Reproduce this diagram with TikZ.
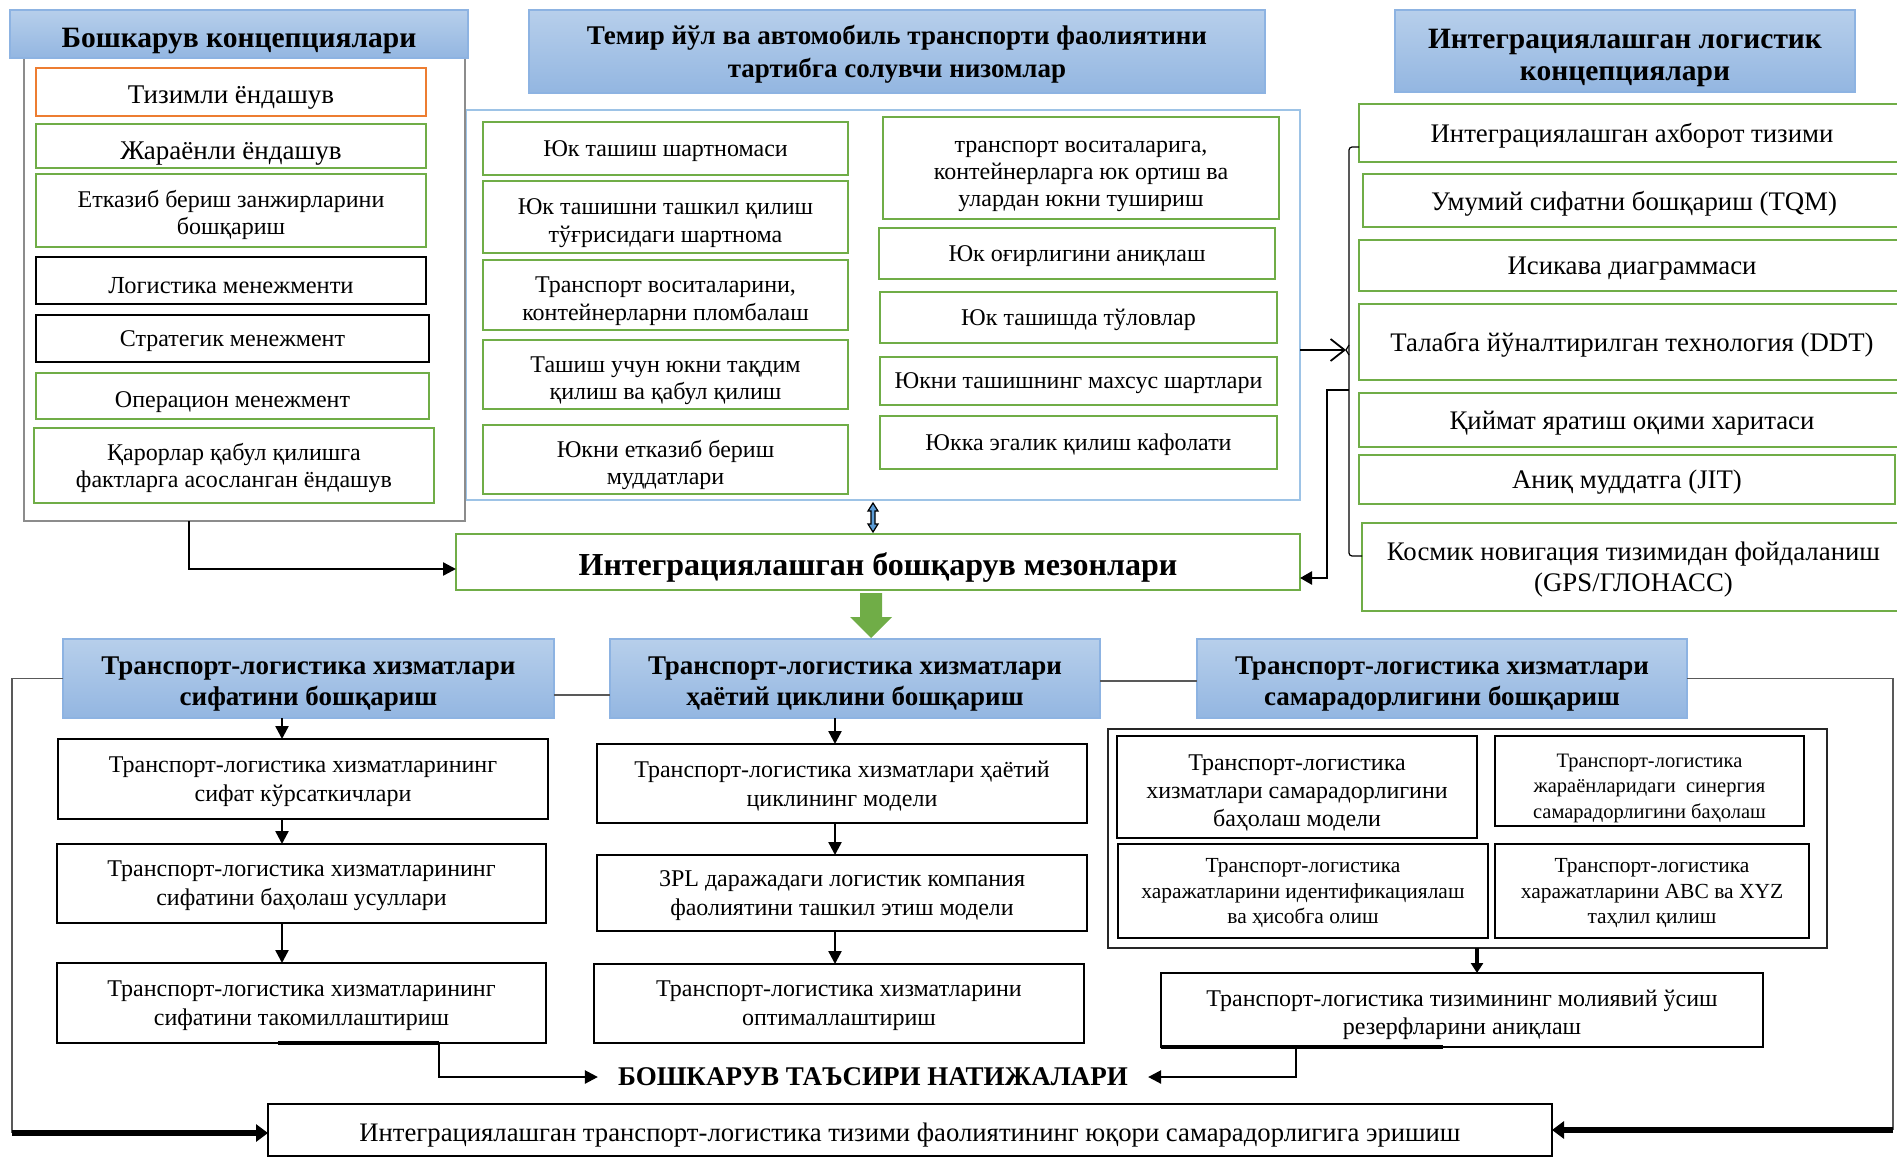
\documentclass[tikz,border=0pt]{standalone}
\usepackage{fontspec}
\setmainfont{Liberation Serif}
\usetikzlibrary{arrows.meta,shadings}
\definecolor{gr}{HTML}{70AD47}
\definecolor{orng}{HTML}{ED7D31}
\definecolor{lblue}{HTML}{9DC3E6}
\definecolor{hdrtop}{HTML}{B7CFEB}
\definecolor{hdrbot}{HTML}{93B6E1}
\definecolor{hdrline}{HTML}{8DB3E2}
\definecolor{midblue}{HTML}{5B9BD5}
\definecolor{lgray}{HTML}{8C8C8C}
\definecolor{dgray}{HTML}{595959}
\newcommand\tstr[1]{\rule{0pt}{#1pt}}
\begin{document}
\begin{tikzpicture}[x=1pt,y=-1pt,
  base/.style={rectangle,inner sep=0pt,outer sep=0pt,align=center,fill=white,text depth=0pt},
  sz/.style 2 args={minimum width=#1pt,minimum height=#2pt},
  f/.style 2 args={font=\fontsize{#1}{#2}\selectfont},
  bf/.style 2 args={font=\fontsize{#1}{#2}\selectfont\bfseries},
  gbox/.style={base,draw=gr,line width=2.2pt},
  obox/.style={base,draw=orng,line width=2.2pt},
  kbox/.style={base,draw=black,line width=2.2pt},
  hdr/.style={base,draw=hdrline,line width=1.2pt,top color=hdrtop,bottom color=hdrbot},
  arr/.style={line width=2.4pt,-{Triangle[length=13pt,width=13pt]}},
  thinline/.style={dgray,line width=1.5pt},
  bigarr/.style={line width=6pt,-{Triangle[length=12pt,width=17pt]}}
]
\useasboundingbox (0,0) rectangle (1897,1157);

% ---------- frames ----------
\node[base,fill=none,draw=lblue,line width=1.5pt,sz={834}{390}] (frameB) at (883,305) {};
\node[base,fill=none,draw=lgray,line width=2.5pt,sz={441}{463}] (frameA) at (244.5,289.5) {};

% ---------- left group ----------
\node[hdr,sz={458}{48},bf={29.5}{32}] (hA) at (239,34) {\tstr{27}Бошкарув концепциялари};
\node[obox,sz={390}{48},f={27}{30}] (A1) at (231,92) {\tstr{22.5}Тизимли ёндашув};
\node[gbox,sz={390}{44},f={27}{30}] (A2) at (231,146) {\tstr{27.5}Жараёнли ёндашув};
\node[gbox,sz={390}{73},f={24}{27}] (A3) at (231,210.5) {\tstr{20.5}Етказиб бериш занжирларини\\бошқариш};
\node[kbox,sz={390}{47},f={24.5}{28}] (A4) at (231,280.5) {\tstr{25.5}Логистика менежменти};
\node[kbox,sz={393}{47},f={24}{28}] (A5) at (232.5,338.5) {Стратегик менежмент};
\node[gbox,sz={393}{46},f={24}{28}] (A6) at (232.5,396) {\tstr{23}Операцион менежмент};
\node[gbox,sz={400}{75},f={24}{27}] (A7) at (234,465.5) {Қарорлар қабул қилишга\\фактларга асосланган ёндашув};

% ---------- middle group ----------
\node[hdr,sz={736}{83},bf={27}{33}] (hB) at (897,51.5) {Темир йўл ва автомобиль транспорти фаолиятини\\тартибга солувчи низомлар};
\node[gbox,sz={365}{53},f={24}{27.5}] (B1) at (665.5,148.5) {Юк ташиш шартномаси};
\node[gbox,sz={365}{72},f={24}{27.5}] (B2) at (665.5,217) {\tstr{23}Юк ташишни ташкил қилиш\\тўғрисидаги шартнома};
\node[gbox,sz={365}{70},f={24}{27.5}] (B3) at (665.5,295) {\tstr{23}Транспорт воситаларини,\\контейнерларни пломбалаш};
\node[gbox,sz={365}{69},f={24}{27.5}] (B4) at (665.5,374.5) {\tstr{23}Ташиш учун юкни тақдим\\қилиш ва қабул қилиш};
\node[gbox,sz={365}{69},f={24}{27.5}] (B5) at (665.5,459.5) {\tstr{23}Юкни етказиб бериш\\муддатлари};
\node[gbox,sz={396}{102},f={24}{27.2}] (C1) at (1081,168) {\tstr{23}транспорт воситаларига,\\контейнерларга юк ортиш ва\\улардан юкни тушириш};
\node[gbox,sz={396}{51},f={24}{27}] (C2) at (1077,253.5) {Юк оғирлигини аниқлаш};
\node[gbox,sz={397}{51},f={24}{27}] (C3) at (1078.5,317.5) {Юк ташишда тўловлар};
\node[gbox,sz={397}{48},f={24}{27}] (C4) at (1078.5,381) {Юкни ташишнинг махсус шартлари};
\node[gbox,sz={397}{53},f={24}{27}] (C5) at (1078.5,442.5) {Юкка эгалик қилиш кафолати};

% ---------- right group ----------
\node[hdr,sz={460}{82},bf={29.5}{32.5}] (hC) at (1625,51) {\tstr{26.5}Интеграциялашган логистик\\концепциялари};
\node[gbox,sz={546}{58},f={26.8}{30}] (D1) at (1632,133) {Интеграциялашган ахборот тизими};
\node[gbox,sz={542}{53},f={26.8}{30}] (D2) at (1634,200.5) {Умумий сифатни бошқариш (TQM)};
\node[gbox,sz={546}{51},f={26.8}{30}] (D3) at (1632,265.5) {Исикава диаграммаси};
\node[gbox,sz={546}{76},f={26.8}{30}] (D4) at (1632,342) {Талабга йўналтирилган технология (DDT)};
\node[gbox,sz={546}{54},f={26.8}{30}] (D5) at (1632,420) {Қиймат яратиш оқими харитаси};
\node[gbox,sz={536}{49},f={26.8}{30}] (D6) at (1627,479.5) {Аниқ муддатга (JIT)};
\node[gbox,sz={543}{88},f={26.8}{31}] (D7) at (1633.5,567) {Космик новигация тизимидан фойдаланиш\\(GPS/ГЛОНАСС)};

% ---------- integrated management box ----------
\node[gbox,sz={844}{56},bf={32}{34}] (mezon) at (878,562) {\tstr{26}Интеграциялашган бошқарув мезонлари};

% brace and connectors on the right
\coordinate (brM) at (1349,350);
\coordinate (brR) at (1349,390);
\coordinate (retX) at (1327,578);
\draw[line width=1.2pt,rounded corners=3pt] (D1.west |- 0,147) -- (1349,147) -- (1349,556) -- (D7.west |- 0,556);
\draw[line width=1.2pt] (1349,345) -- (1346,350) -- (1349,355);
\draw[line width=1.8pt,-{Straight Barb[length=14pt,width=22pt]}] (frameB.east |- brM) -- (1346,350);
\draw[line width=2.6pt,-{Triangle[length=12pt,width=13pt]}] (brR) -- (brR -| retX) -- (retX) -- (mezon.east |- retX);

% left connector to mezon
\coordinate (aL) at (189,569);
\draw[line width=2.4pt,-{Triangle[length=13pt,width=13pt]}] (frameA.south -| aL) -- (aL) -- (mezon.west |- aL);

% double arrow between frameB and mezon
\filldraw[fill=midblue,draw=black,line width=1.2pt]
  (873,503) -- (878,511) -- (875,511) -- (875,524) -- (878,524) -- (873,532)
  -- (868,524) -- (871,524) -- (871,511) -- (868,511) -- cycle;

% green block arrow
\fill[gr] (860,593) -- (882,593) -- (882,617) -- (892,617) -- (871,638) -- (850,617) -- (860,617) -- cycle;

% ---------- lower headers ----------
\node[hdr,sz={491}{79},bf={27}{31.5}] (H1) at (308.5,678.5) {\tstr{22.5}Транспорт-логистика хизматлари\\сифатини бошқариш};
\node[hdr,sz={490}{79},bf={27}{31.5}] (H2) at (855,678.5) {\tstr{22.5}Транспорт-логистика хизматлари\\ҳаётий циклини бошқариш};
\node[hdr,sz={490}{79},bf={27}{31.5}] (H3) at (1442,678.5) {\tstr{22.5}Транспорт-логистика хизматлари\\самарадорлигини бошқариш};

\draw[thinline] (H1.east |- 0,695) -- (H2.west |- 0,695);
\draw[thinline] (H2.east |- 0,681) -- (H3.west |- 0,681);

% ---------- quality column ----------
\node[kbox,sz={490}{80},f={24}{29}] (E1) at (303,779) {Транспорт-логистика хизматларининг\\сифат кўрсаткичлари};
\node[kbox,sz={489}{79},f={24}{29}] (E2) at (301.5,883.5) {Транспорт-логистика хизматларининг\\сифатини баҳолаш усуллари};
\node[kbox,sz={489}{80},f={24}{29}] (E3) at (301.5,1003) {Транспорт-логистика хизматларининг\\сифатини такомиллаштириш};
\coordinate (ex) at (282,0);
\draw[arr] (H1.south -| ex) -- (E1.north -| ex);
\draw[arr] (E1.south -| ex) -- (E2.north -| ex);
\draw[arr] (E2.south -| ex) -- (E3.north -| ex);

% ---------- life-cycle column ----------
\node[kbox,sz={490}{79},f={24}{29}] (G1) at (842,783.5) {Транспорт-логистика хизматлари ҳаётий\\циклининг модели};
\node[kbox,sz={490}{76},f={24}{29}] (G2) at (842,893) {3PL даражадаги логистик компания\\фаолиятини ташкил этиш модели};
\node[kbox,sz={490}{79},f={24}{29}] (G3) at (839,1003.5) {Транспорт-логистика хизматларини\\оптималлаштириш};
\coordinate (gx) at (835,0);
\draw[arr] (H2.south -| gx) -- (G1.north -| gx);
\draw[arr] (G1.south -| gx) -- (G2.north -| gx);
\draw[arr] (G2.south -| gx) -- (G3.north -| gx);

% ---------- efficiency group ----------
\node[base,fill=none,draw=black!85,line width=1.1pt,sz={719}{219}] (Ifr) at (1467.5,838.5) {};
\node[kbox,sz={360}{102},f={24}{28}] (I1) at (1297,787) {\tstr{23}Транспорт-логистика\\хизматлари самарадорлигини\\баҳолаш модели};
\node[kbox,sz={309}{90},f={20.5}{25.5}] (I2) at (1649.5,781) {\tstr{23}Транспорт-логистика\\жараёнларидаги\ \ синергия\\самарадорлигини баҳолаш};
\node[kbox,sz={370}{94},f={21.5}{25.5}] (I3) at (1303,891) {Транспорт-логистика\\харажатларини идентификациялаш\\ва ҳисобга олиш};
\node[kbox,sz={314}{94},f={21.5}{25.5}] (I4) at (1652,891) {Транспорт-логистика\\харажатларини ABC ва XYZ\\таҳлил қилиш};
\node[kbox,sz={602}{74},f={24}{28}] (J) at (1462,1010) {\tstr{20.5}Транспорт-логистика тизимининг молиявий ўсиш\\резерфларини аниқлаш};
\coordinate (jx) at (1477,0);
\draw[line width=3.5pt,-{Triangle[length=10pt,width=12pt]}] (Ifr.south -| jx) -- (J.north -| jx);

% ---------- results ----------
\node[inner xsep=20pt,inner ysep=2pt,bf={27}{30}] (res) at (873,1077) {БОШКАРУВ ТАЪСИРИ НАТИЖАЛАРИ};
\coordinate (ex2) at (439,0);
\coordinate (jx2) at (1296,0);
\draw[line width=4pt] ([xshift=-23.5pt]E3.south) -- (E3.south -| ex2);
\draw[line width=4pt] (J.south west) -- ([xshift=282pt]J.south west);
\draw[arr] (E3.south -| ex2) |- (res.west);
\draw[arr] (J.south -| jx2) |- (res.east);

% ---------- bottom box ----------
\node[kbox,sz={1284}{52},f={26.7}{30}] (F) at (910,1130) {\tstr{22.5}Интеграциялашган транспорт-логистика тизими фаолиятининг юқори самарадорлигига эришиш};

\coordinate (lL) at (12,1133);
\coordinate (rR) at (1893,1130);
\draw[thinline] (H1.west) -- (H1.west -| lL) -- (lL);
\draw[bigarr] (lL) -- (F.west |- lL);
\draw[thinline] (H3.east) -- (H3.east -| rR) -- (rR);
\draw[bigarr] (rR) -- (F.east |- rR);
\end{tikzpicture}
\end{document}
